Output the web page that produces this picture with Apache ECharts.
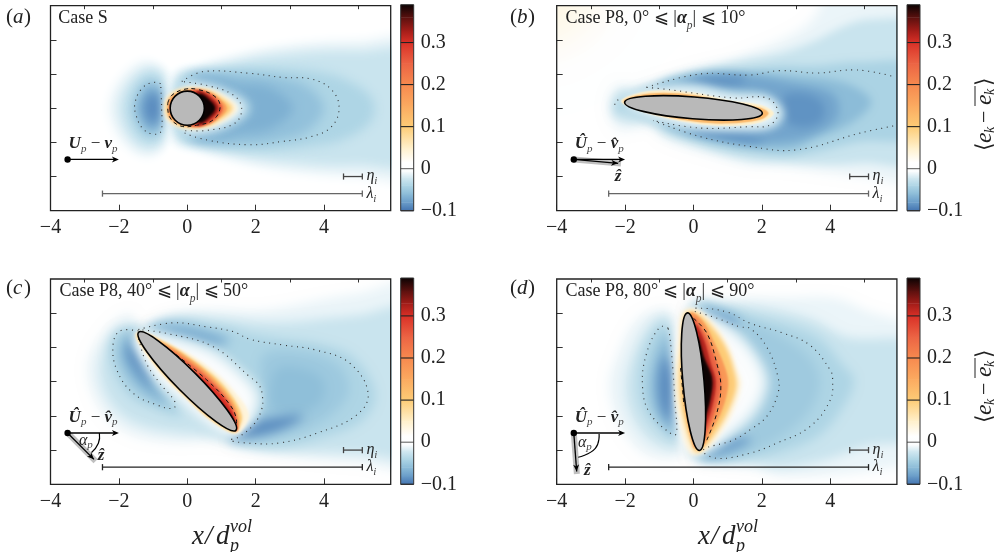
<!DOCTYPE html>
<html><head><meta charset="utf-8">
<style>html,body{margin:0;padding:0;background:#fff}#c{width:1004px;height:552px}</style>
<script src="https://cdn.jsdelivr.net/npm/echarts@6/dist/echarts.min.js"></script>
</head><body><div id="c"></div>
<script>
const xTicksMajor=[-4,-2,0,2,4], xTicksMinor=[-3,-1,1,3,5], yTicks=[-2,-1,0,1,2];
const cbTicks=[-0.1,0,0.1,0.2,0.3];
const cmapStops=[[-0.1,'#4373b0'],[-0.08,'#6a9dc9'],[-0.06,'#8cbcd8'],[-0.04,'#aed5e5'],[-0.02,'#d5eaf2'],[-0.006,'#fbfdfe'],[0.015,'#ffffff'],[0.05,'#fff0cb'],[0.1,'#fdcc76'],[0.15,'#fbaa60'],[0.2,'#f78a4f'],[0.25,'#ec6444'],[0.3,'#d93027'],[0.33,'#a01c18'],[0.36,'#5a100e'],[0.39,'#0c0303']];

const fieldA=[
[-0.012,[[-1.2,1.38],[-1.8,1.05],[-2.22,0.4],[-2.28,-0.2],[-1.92,-0.95],[-1.3,-1.4],[-0.8,-1.25],[-0.6,-0.6],[-0.58,0.2],[-0.62,0.95]]],
[-0.028,[[-1.15,1.18],[-1.65,0.82],[-1.97,0.2],[-1.92,-0.4],[-1.55,-1.0],[-1.1,-1.2],[-0.73,-1.0],[-0.63,-0.3],[-0.65,0.5],[-0.73,1.05]]],
[-0.045,[[-1.1,0.92],[-1.48,0.6],[-1.66,0],[-1.48,-0.6],[-1.1,-0.92],[-0.78,-0.75],[-0.66,0],[-0.78,0.75]]],
[-0.07,[[-1.05,0.7],[-1.35,0.35],[-1.45,0],[-1.35,-0.35],[-1.05,-0.7],[-0.8,-0.5],[-0.72,0],[-0.8,0.5]]],
[-0.09,[[-1.02,0.48],[-1.22,0.18],[-1.22,-0.18],[-1.02,-0.48],[-0.83,-0.25],[-0.83,0.25]]],
[-0.012,[[-0.45,0.88],[0.3,1.2],[1,1.42],[2,1.68],[3,1.85],[4,1.95],[5,1.98],[6.5,1.98],[6.5,-2.02],[5,-2.02],[4,-1.96],[3,-1.85],[2,-1.68],[1,-1.42],[0.3,-1.2],[-0.45,-0.88]]],
[-0.026,[[-0.3,0.88],[0.4,1.12],[1.2,1.3],[2,1.48],[3,1.6],[4,1.68],[5,1.68],[6.5,1.62],[6.5,-1.62],[5,-1.68],[4,-1.68],[3,-1.6],[2,-1.48],[1.2,-1.3],[0.4,-1.12],[-0.3,-0.88]]],
[-0.04,[[-0.2,0.84],[0.4,1.05],[1.3,1.15],[2.5,1.18],[3.6,1.1],[4.6,0.85],[5.4,0.3],[5.4,-0.35],[4.6,-0.9],[3.6,-1.12],[2.5,-1.22],[1.3,-1.18],[0.4,-1.02],[-0.2,-0.78]]],
[-0.056,[[0,0.84],[0.7,0.98],[1.6,1.0],[2.6,0.92],[3.5,0.65],[4.0,0],[3.5,-0.68],[2.6,-0.96],[1.6,-1.05],[0.7,-1.0],[0,-0.78]]],
[-0.068,[[0.2,0.87],[0.9,0.9],[1.5,0.72],[2.4,0.62],[3.1,0],[2.4,-0.62],[1.5,-0.76],[0.9,-0.92],[0.2,-0.84]]],
[-0.04,[[-0.15,0.72],[0.6,0.7],[1.2,0.5],[1.68,0.25],[1.85,0],[1.68,-0.25],[1.2,-0.55],[0.6,-0.72],[-0.15,-0.7]]],
[-0.012,[[-0.15,0.64],[0.6,0.64],[1.15,0.42],[1.55,0.2],[1.68,0],[1.55,-0.2],[1.15,-0.45],[0.6,-0.66],[-0.15,-0.62]]],
[0.04,[[-0.62,0.3],[-0.25,0.55],[0.55,0.57],[1.15,0.33],[1.47,0],[1.15,-0.33],[0.55,-0.57],[-0.25,-0.55],[-0.62,-0.3],[-0.68,0]]],
[0.1,[[-0.55,0.25],[-0.2,0.53],[0.55,0.53],[1.05,0.28],[1.32,0],[1.05,-0.28],[0.55,-0.53],[-0.2,-0.53],[-0.55,-0.25],[-0.62,0]]],
[0.17,[[-0.5,0.3],[0,0.53],[0.55,0.5],[0.98,0.25],[1.16,0],[0.98,-0.25],[0.55,-0.5],[0,-0.53],[-0.5,-0.3],[-0.56,0]]],
[0.26,[[0.1,0.52],[0.6,0.46],[0.9,0.24],[1.04,0],[0.9,-0.24],[0.6,-0.46],[0.1,-0.52],[-0.52,0]]],
[0.33,[[0.3,0.5],[0.65,0.35],[0.92,0],[0.65,-0.35],[0.3,-0.5],[0,0]]],
[0.39,[[0.35,0.42],[0.65,0.25],[0.82,0],[0.65,-0.25],[0.35,-0.42],[0,0]]]
];
const dottedA=[
[[-0.78,0.72],[-1.05,0.75],[-1.35,0.55],[-1.53,0.15],[-1.5,-0.2],[-1.3,-0.6],[-1.03,-0.75],[-0.78,-0.7],[-0.75,0],[-0.78,0.72]],
[[-0.16,0.78],[0.46,1.07],[1.83,1.02],[2.8,0.9],[3.6,0.86],[4.18,0.58],[4.44,0.05],[4.22,-0.54],[3.6,-0.84],[2.8,-0.97],[1.83,-1.07],[0.57,-0.93],[-0.12,-0.68],[0.57,-0.65],[1.39,-0.44],[1.59,0],[1.34,0.39],[0.6,0.66],[-0.16,0.78]]
];
const dashedA=[[[-0.57,0.15],[-0.45,0.38],[-0.1,0.55],[0.3,0.55],[0.81,0.34],[0.96,0.03],[0.76,-0.34],[0.27,-0.5],[-0.2,-0.52],[-0.52,-0.25],[-0.57,0.15]]];

const fieldB=[
[0.012,[[-4.6,3.6],[-0.4,3.6],[-1.2,2.4],[-2.6,1.3],[-4.6,0.7]]],
[0.022,[[-4.6,3.6],[-2.2,3.6],[-2.9,2.2],[-4.6,1.5]]],
[0.032,[[-4.6,3.6],[-3.2,3.6],[-3.5,2.6],[-4.6,2.2]]],
[-0.012,[[-1.8,0.6],[-0.8,0.9],[0.2,1.2],[1.15,1.42],[1.65,1.62],[2.6,2.02],[3.3,2.42],[3.7,2.95],[3.85,3.5],[6.5,3.5],[6.5,-2.05],[5,-2.0],[4.1,-1.9],[2.6,-1.7],[1.65,-1.65],[0.5,-1.35],[-0.78,-0.92],[-1.25,-0.55],[-1.8,-0.6],[-2.15,-0.65],[-2.45,-0.25],[-2.48,0.25],[-2.2,0.68]]],
[-0.026,[[-1.6,0.55],[-0.7,0.85],[0.3,1.15],[1.3,1.38],[2.5,1.6],[3.5,1.95],[4.4,2.4],[5.2,2.6],[6.5,2.4],[6.5,-1.55],[5,-1.6],[4.1,-1.65],[2.6,-1.58],[1.65,-1.52],[0.5,-1.22],[-0.8,-0.8],[-1.3,-0.45],[-1.9,-0.42],[-2.32,-0.25],[-2.38,0.2],[-2.15,0.52]]],
[-0.042,[[-1.37,0.62],[0.19,1.06],[1.65,1.15],[2.53,1.25],[3.6,1.25],[4.77,1.35],[6.5,1.2],[6.5,-0.8],[4.87,-0.98],[3.02,-1.38],[1.65,-1.3],[0.19,-0.98],[-1.18,-0.4],[-1.9,-0.14],[-2.28,0],[-2.05,0.28]]],
[-0.06,[[-1.0,0.62],[0.19,0.98],[1.65,1.02],[2.9,0.95],[4.4,0.75],[5.2,0.2],[4.6,-0.45],[3.5,-0.9],[2.9,-1.18],[1.65,-1.12],[0.19,-0.85],[-0.85,-0.48]]],
[-0.075,[[-0.4,0.72],[0.5,0.95],[1.6,0.95],[2.8,0.75],[4.1,0.4],[4.2,-0.3],[3.3,-0.85],[2.2,-1.02],[1.6,-1.02],[0.5,-0.82],[-0.3,-0.62],[0.4,-0.5],[2.2,-0.3],[2.2,0.4],[0.4,0.55]]],
[-0.085,[[2.65,0.35],[3.3,0.42],[3.8,0.12],[3.75,-0.35],[3.2,-0.55],[2.7,-0.35]]],
[-0.085,[[-0.1,0.8],[0.7,0.92],[1.5,0.88],[1.4,0.72],[0.5,0.68]]],
[-0.085,[[0,-0.68],[0.7,-0.85],[1.6,-0.98],[2.1,-0.92],[1.5,-0.76],[0.5,-0.62]]],
[-0.03,[[-1.3,0.48],[0,0.7],[1.2,0.42],[2.2,0.3],[2.65,-0.12],[2.35,-0.55],[1.3,-0.62],[0,-0.58],[-1.2,-0.28],[-1.9,0.1]]],
[-0.01,[[-1.7,0.42],[-0.4,0.55],[1.15,0.32],[2.15,0.24],[2.45,-0.12],[2.2,-0.46],[1.3,-0.55],[-0.2,-0.47],[-1.45,-0.12],[-2.02,0.18]]],
[0.05,[[-2.12,0.2],[-1.3,0.5],[0,0.46],[1.1,0.22],[1.95,0.1],[2.35,-0.15],[1.95,-0.42],[1,-0.52],[0,-0.44],[-1.3,-0.16]]],
[0.13,[[-2.05,0.2],[-1.3,0.43],[0,0.39],[1.1,0.15],[1.95,0.02],[2.2,-0.15],[1.95,-0.34],[1,-0.45],[0,-0.39],[-1.3,-0.12]]]
];
const dottedB=[
[[-2.2,0.25],[-2.3,0.15],[-2.25,0.02]],
[[-1.37,0.61],[0.19,1.0],[1.65,0.97],[2.53,1.1],[3.6,1.03],[4.77,1.12],[5.84,0.93]],
[[5.84,-0.52],[4.87,-0.73],[3.02,-1.22],[1.65,-1.12],[0.19,-0.83],[-1.18,-0.36]],
[[-1.37,0.61],[-0.78,0.55],[1.16,0.3],[2.14,0.3],[2.47,-0.1],[2.24,-0.49],[1.65,-0.54],[0.19,-0.58],[-1.18,-0.36]]
];
const dashedB=[];

const fieldC=[
[-0.012,[[-1.7,2.0],[-2.35,1.55],[-2.9,0.6],[-2.8,-0.3],[-2.25,-1.15],[-1.5,-1.6],[-0.3,-1.78],[0.6,-1.74],[1.3,-1.84],[2,-2.04],[3,-2.18],[4,-2.3],[5,-2.38],[6.5,-2.44],[6.5,2.8],[5,2.58],[4,2.42],[3,2.22],[2,2.08],[1,2.1],[0,2.05],[-0.7,1.9],[-1.2,1.6],[-1.45,1.65]]],
[-0.026,[[-1.7,1.65],[-2.25,1.25],[-2.55,0.5],[-2.45,-0.25],[-1.95,-0.95],[-1.3,-1.3],[-0.3,-1.5],[0.8,-1.6],[1.4,-1.78],[2.5,-1.98],[3.5,-2.05],[5,-2.1],[6.5,-2.1],[6.5,2.1],[5,1.95],[4,1.85],[3,1.75],[2,1.75],[1,1.85],[0,1.92],[-0.7,1.8],[-1.3,1.52]]],
[-0.042,[[-1.43,1.5],[-2.0,1.5],[-2.25,1.07],[-2.15,0.34],[-1.65,-0.45],[-0.89,-0.8],[-0.2,-1.0],[-0.3,-0.5],[-0.8,0],[-1.2,0.8]]],
[-0.04,[[-1.25,1.45],[-0.41,1.78],[0.57,1.68],[1.35,1.55],[1.83,1.4],[2.8,1.25],[3.78,1.12],[4.85,0.72],[5.5,-0.34],[5.1,-1.15],[3.78,-1.68],[2.71,-1.9],[1.83,-1.88],[1.25,-1.75],[1.5,-1.4],[2.2,-0.4],[1.2,0.6],[0,1.2]]],
[-0.05,[[2.2,0.75],[3.5,0.85],[4.5,0.4],[4.7,-0.4],[3.8,-1.25],[2.5,-1.6],[1.8,-1.55],[2.25,-0.6]]],
[-0.068,[[-1.75,1.35],[-1.95,0.8],[-1.6,0.05],[-0.95,-0.5],[-0.55,-0.65],[-1.1,0.25],[-1.42,0.85],[-1.5,1.3]]],
[-0.088,[[-1.62,1.15],[-1.72,0.8],[-1.4,0.25],[-1.0,-0.15],[-1.22,0.45],[-1.42,0.85]]],
[-0.07,[[-1.1,1.58],[-0.4,1.66],[0.5,1.5],[1.25,1.2],[0.8,1.05],[-0.5,1.38]]],
[-0.058,[[2.6,0.35],[3.5,0.35],[4.0,0],[3.9,-0.6],[3.2,-0.95],[2.5,-0.8]]],
[-0.088,[[1.2,-1.62],[1.9,-1.62],[2.8,-1.38],[3.4,-1.0],[2.6,-1.05],[1.95,-1.2],[1.5,-1.38]]],
[-0.025,[[-1.35,1.45],[-0.5,1.33],[0.76,0.95],[1.83,0.1],[2.12,-0.45],[1.95,-1.1],[1.7,-1.35],[1.3,-1.6],[0.5,-1.3],[-0.35,-0.6],[-0.9,0],[-1.4,0.8],[-1.55,1.3]]],
[-0.006,[[-1.35,1.42],[-0.55,1.25],[0.7,0.82],[1.7,0.02],[2.0,-0.45],[1.85,-1.05],[1.55,-1.4],[1.25,-1.55],[0.5,-1.12],[-0.3,-0.4],[-0.85,0.1],[-1.35,0.85],[-1.52,1.3]]],
[0.04,[[-1.4,1.48],[-0.9,1.27],[0,0.85],[0.8,0.3],[1.4,-0.3],[1.8,-0.95],[1.6,-1.42],[1.38,-1.52],[0.7,-1.12],[0,-0.5],[-0.7,0.15],[-1.3,0.95],[-1.52,1.35]]],
[0.1,[[-1.3,1.42],[-0.75,1.2],[0,0.76],[0.72,0.22],[1.28,-0.38],[1.6,-1.0],[1.48,-1.4],[1.3,-1.48],[0.6,-1.05],[-0.1,-0.4],[-0.7,0.22],[-1.25,0.95],[-1.48,1.35]]],
[0.17,[[-1.1,1.3],[-0.5,1.02],[0.15,0.6],[0.8,0.05],[1.3,-0.55],[1.5,-1.1],[1.42,-1.45],[0,0],[-1.4,1.4]]],
[0.25,[[-0.7,1.02],[0,0.6],[0.6,0.12],[1.1,-0.42],[1.42,-1.0],[1.42,-1.42],[0,0]]],
[0.3,[[0.2,0.25],[0.75,-0.15],[1.2,-0.65],[1.42,-1.15],[1.4,-1.42],[0,0]]],
[0.36,[[0.85,-0.5],[1.2,-0.85],[1.38,-1.2],[1.3,-1.3],[0.7,-0.7]]]
];
const dottedC=[
[[-1.43,1.48],[-1.97,1.48],[-2.17,1.07],[-2.06,0.34],[-1.58,-0.34],[-0.89,-0.68],[-0.41,-0.78],[-0.36,-0.59],[-0.8,-0.05],[-1.2,0.55],[-1.43,1.3]],
[[-1.43,1.52],[-0.41,1.72],[0.57,1.6],[1.35,1.46],[1.83,1.24],[2.8,1.07],[3.78,0.92],[4.75,0.54],[5.29,-0.34],[4.95,-0.98],[3.78,-1.51],[2.71,-1.79],[1.83,-1.8],[1.25,-1.71],[1.5,-1.62],[1.93,-1.27],[2.17,-0.83],[2.2,-0.44],[2.1,-0.1],[1.83,0.14],[0.76,1.02],[-0.6,1.41],[-1.43,1.52]]
];
const dashedC=[[[-0.5,0.92],[0.57,0.05],[1.25,-0.68],[1.44,-1.12],[1.38,-1.39]]];

const fieldD=[
[-0.012,[[-0.78,2.12],[-1.4,2.0],[-1.82,1.62],[-2.2,0.85],[-2.47,-0.05],[-2.3,-0.95],[-1.95,-1.6],[-1.5,-2.07],[-0.9,-2.25],[-0.36,-2.15],[-0.43,-1.6],[-0.53,-0.5],[-0.64,0.8],[-0.64,1.85]]],
[-0.026,[[-0.78,1.95],[-1.25,1.7],[-1.72,0.9],[-1.98,-0.1],[-1.82,-0.95],[-1.35,-1.65],[-0.8,-1.95],[-0.4,-1.9],[-0.48,-0.8],[-0.58,0.7],[-0.66,1.75]]],
[-0.042,[[-0.76,1.65],[-1.0,1.65],[-1.45,0.83],[-1.58,-0.15],[-1.35,-0.95],[-0.62,-1.68],[-0.43,-1.6],[-0.5,-0.63],[-0.58,0.34],[-0.66,1.35]]],
[-0.066,[[-0.78,1.35],[-1.08,0.7],[-1.22,-0.15],[-1.05,-0.95],[-0.58,-1.5],[-0.47,-1.35],[-0.54,-0.5],[-0.6,0.5]]],
[-0.09,[[-0.82,0.75],[-1.0,0.05],[-0.92,-0.75],[-0.66,-1.15],[-0.58,-0.45],[-0.63,0.25]]],
[-0.012,[[-0.1,2.3],[0.8,2.35],[1.65,2.45],[2.62,2.45],[4.09,2.45],[5,2.1],[6.5,1.4],[6.5,-2.3],[5.95,-2.48],[4.58,-2.68],[2.62,-2.76],[1.65,-2.5],[0.68,-2.42],[0.1,-2.28],[-0.2,-2.0],[0,0]]],
[-0.026,[[0,2.22],[0.9,2.25],[1.7,2.2],[2.6,2.05],[3.5,1.8],[4.5,1.3],[6.5,1.05],[6.5,-1.55],[5,-1.9],[4,-2.25],[2.6,-2.5],[1.65,-2.38],[0.68,-2.32],[0.1,-2.2],[0,0]]],
[-0.04,[[0.05,2.17],[0.97,2.12],[1.75,1.9],[2.8,1.65],[3.7,1.25],[4.4,0.45],[4.7,0.05],[4.4,-0.7],[3.7,-1.55],[2.6,-2.05],[1.65,-2.22],[0.68,-2.27],[0.1,-2.12],[0,0]]],
[-0.049,[[0.15,2.12],[0.7,2.1],[1.5,1.8],[2.6,1.3],[3.4,0.7],[3.7,0],[3.4,-0.85],[2.5,-1.65],[1.5,-2.1],[0.6,-2.25],[0.1,-2.05],[0,0]]],
[-0.08,[[0.25,2.12],[0.7,2.04],[1.3,1.78],[1.2,1.58],[0.6,1.85]]],
[-0.08,[[0.2,-2.17],[0.7,-2.16],[1.2,-1.98],[1.7,-1.72],[1.2,-1.62],[0.6,-1.95]]],
[-0.022,[[-0.15,2.1],[0.3,1.98],[1.2,1.55],[1.8,0.9],[2.2,0.15],[2.15,-0.4],[1.8,-1.05],[1.1,-1.62],[0.35,-2.05],[-0.15,-2.1],[-0.4,0]]],
[-0.004,[[-0.15,2.05],[0.3,1.9],[1.05,1.45],[1.65,0.85],[2.0,0.15],[1.95,-0.35],[1.6,-0.95],[1.0,-1.5],[0.32,-1.98],[-0.15,-2.05],[-0.45,-1.3],[-0.5,0.1],[-0.52,1.3]]],
[0.04,[[0,2.15],[0.5,1.8],[1.0,1.1],[1.3,0.3],[1.4,-0.1],[1.15,-0.9],[0.8,-1.5],[0.3,-2.05],[-0.1,-2.1],[-0.45,-1],[-0.55,0],[-0.45,1.2],[-0.35,2.0]]],
[0.1,[[0,2.05],[0.45,1.7],[0.95,1.0],[1.22,0.2],[1.25,-0.2],[1.0,-0.9],[0.65,-1.5],[0.25,-2.0],[0.05,-2.05],[-0.3,-1],[-0.42,0],[-0.35,1],[-0.25,1.95]]],
[0.18,[[-0.1,2],[0.25,1.8],[0.58,1.2],[0.93,0.4],[1.02,-0.1],[0.85,-0.8],[0.55,-1.4],[0.25,-1.9],[0,-1.9],[-0.3,0]]],
[0.25,[[0,1.85],[0.28,1.5],[0.55,0.9],[0.78,0.2],[0.8,-0.2],[0.62,-0.9],[0.38,-1.5],[0.2,-1.8],[0,-1]]],
[0.32,[[0.05,1.65],[0.3,1.25],[0.52,0.5],[0.66,0],[0.56,-0.7],[0.35,-1.35],[0.2,-1.72],[0,-0.5]]],
[0.39,[[0.12,1.3],[0.32,0.7],[0.55,0.1],[0.5,-0.5],[0.32,-1.15],[0.18,-1.55],[0,0]]]
];
const dottedD=[
[[-0.74,1.56],[-0.98,1.6],[-1.37,0.83],[-1.49,-0.15],[-1.27,-0.93],[-0.6,-1.56],[-0.49,-1.5],[-0.54,-0.63],[-0.6,0.34],[-0.69,1.31],[-0.74,1.56]],
[[0.04,2.05],[0.7,1.85],[1.36,1.6],[1.65,1.56],[2.14,1.02],[2.47,0.14],[2.47,-0.34],[2.14,-1.02],[1.65,-1.41],[1.16,-1.71],[0.28,-2.0],[0.68,-2.24],[1.65,-2.09],[2.43,-1.8],[3.4,-1.32],[4,-0.54],[4.07,0.05],[4,0.34],[3.4,1.07],[2.62,1.42],[1.65,1.71],[0.97,2.04],[0.05,2.15],[0.04,2.05]]
];
const dashedD=[
[[0,1.85],[0.39,1.42],[0.68,0.54],[0.8,-0.15],[0.68,-0.93],[0.39,-1.71]],
[[-0.38,0.4],[-0.33,-0.1],[-0.28,-0.7]]
];

const particles=[[0,0,0.5,0.5,0],[0,0.01,2.02,0.32,-4.6],[0,0.01,2.02,0.33,-45.2],[0,0,2.02,0.31,-85]];
const velArrow=[-3.5,-1.5,-2.0,-1.5];
const zArrows=[null,[-3.5,-1.5,-2.12,-1.62],[-3.5,-1.5,-2.68,-2.32],[-3.5,-1.5,-3.41,-2.7]];
const arcs=[null,null,[[-2.57,-1.5],[-2.6,-1.8],[-2.8,-2.07]],[[-2.76,-1.53],[-2.87,-1.95],[-3.37,-2.21]]];
const etaBar=[4.57,5.12,-2.0], lambdaBar=[-2.48,5.12,-2.5];
const fields=[fieldA,fieldB,fieldC,fieldD], dotted=[dottedA,dottedB,dottedC,dottedD], dashed=[dashedA,dashedB,dashedC,dashedD];

const panels=[
 {l:50.5,t:5.7,w:340.2,h:205,cl:400.7,ct:4.7,ch:206},
 {l:556.7,t:5.7,w:340.2,h:205,cl:907,ct:4.7,ch:206},
 {l:50.5,t:279,w:340.2,h:205.3,cl:400.7,ct:278,ch:206.3},
 {l:556.7,t:279,w:340.2,h:205.3,cl:907,ct:278,ch:206.3}
];
const FONT='"Liberation Serif",serif';
const OFF=3000;
function hex(c){return [1,3,5].map(i=>parseInt(c.substr(i,2),16));}
function colorOf(v){
  const s=cmapStops; if(v<=s[0][0])return s[0][1];
  for(let i=1;i<s.length;i++){ if(v<=s[i][0]){const t=(v-s[i-1][0])/(s[i][0]-s[i-1][0]);const a=hex(s[i-1][1]),b=hex(s[i][1]);
    return 'rgb('+a.map((x,k)=>Math.round(x+(b[k]-x)*t)).join(',')+')';}}
  return s[s.length-1][1];
}
const blurFor=[ v=>v<0?11:(v<0.15?4:2.5), v=>v<0?(v<-0.02?8:12):(v<0.04?26:1.5), v=>v<0?11:(v<0.15?3:2.5), v=>v<0?11:(v<0.15?4:2.5) ];
const grids=[],xAxes=[],yAxes=[],series=[];
const minus=s=>String(s).replace('-','\u2212');
function fieldRender(list,blur){return function(params,api){
  const c=list[params.dataIndex], col=colorOf(c[0]);
  return {type:'polygon',x:-OFF,shape:{points:c[1].map(p=>api.coord(p)),smooth:0.35},
    style:{fill:col,shadowColor:col,shadowBlur:blur(c[0]),shadowOffsetX:OFF}};
};}
function polyline(api,pts,style,smooth){return {type:'polyline',shape:{points:pts.map(p=>api.coord(p)),smooth:smooth||0},style:Object.assign({fill:'none'},style)};}
function arrowHead(api,a,color){
  const p=api.coord([a[2],a[3]]),q=api.coord([a[0],a[1]]);const ang=Math.atan2(p[1]-q[1],p[0]-q[0]);const L=7,W=3;
  const back=[p[0]-L*Math.cos(ang),p[1]-L*Math.sin(ang)];
  const notch=[p[0]-5*Math.cos(ang),p[1]-5*Math.sin(ang)];
  return {type:'polygon',shape:{points:[p,[back[0]-W*Math.sin(ang),back[1]+W*Math.cos(ang)],notch,[back[0]+W*Math.sin(ang),back[1]-W*Math.cos(ang)]]},style:{fill:color}};
}
function line(api,x0,y0,x1,y1,stroke,w){return {type:'line',shape:{x1:api.coord([x0,y0])[0],y1:api.coord([x0,y0])[1],x2:api.coord([x1,y1])[0],y2:api.coord([x1,y1])[1]},style:{stroke:stroke,lineWidth:w}};}
const richBase={b:{fontFamily:FONT,fontStyle:'italic',fontWeight:'bold',fontSize:17,lineHeight:17,verticalAlign:'middle',fill:'#222'},
  s:{fontFamily:FONT,fontStyle:'italic',fontSize:11,lineHeight:21,verticalAlign:'bottom',fill:'#444'},
  n:{fontFamily:FONT,fontSize:17,lineHeight:17,verticalAlign:'middle',fill:'#222'},
  i:{fontFamily:FONT,fontStyle:'italic',fontSize:16,lineHeight:16,verticalAlign:'middle',fill:'#222'}};
const captions=['{n|Case S}','{n|Case P8, 0° ⩽ |}{b|α}{s|p}{n|| ⩽ 10°}','{n|Case P8, 40° ⩽ |}{b|α}{s|p}{n|| ⩽ 50°}','{n|Case P8, 80° ⩽ |}{b|α}{s|p}{n|| ⩽ 90°}'];
const velLabels=['{b|U}{s|p}{n| − }{b|v}{s|p}','{b|Û}{s|p}{n| − }{b|v̂}{s|p}','{b|Û}{s|p}{n| − }{b|v̂}{s|p}','{b|Û}{s|p}{n| − }{b|v̂}{s|p}'];
const capSize=18;
function txt(api,x,y,text,o){const p=api.coord([x,y]);return {type:'text',x:p[0],y:p[1],style:Object.assign({text:text,rich:richBase,align:'left',verticalAlign:'middle',fontFamily:FONT},o||{})};}

function annotRender(i){return function(params,api){
  const ch=[], P=particles[i];
  dotted[i].forEach(pts=>ch.push(polyline(api,pts,{stroke:'#333',lineWidth:1.1,lineDash:[1,4.6]},0.4)));
  dashed[i].forEach(pts=>ch.push(polyline(api,pts,{stroke:'#111',lineWidth:1,lineDash:[4,3.5]},0.4)));
  const c=api.coord([P[0],P[1]]), sz=api.size([P[2],P[3]]);
  ch.push({type:'ellipse',x:c[0],y:c[1],rotation:P[4]*Math.PI/180,shape:{cx:0,cy:0,rx:sz[0],ry:sz[1]},style:{fill:'#b9b9b9',stroke:'#000',lineWidth:1.6}});
  [[etaBar,'#444'],[lambdaBar,i<2?'#666':'#222']].forEach(([b,col])=>{
    ch.push(line(api,b[0],b[2],b[1],b[2],col,1.3));
    [b[0],b[1]].forEach(x=>ch.push(line(api,x,b[2]-0.09,x,b[2]+0.09,col,1.3)));
  });
  ch.push(txt(api,5.24,-1.99,'{i|η}{s|i}'),txt(api,5.24,-2.5,'{i|λ}{s|i}'));
  const z=zArrows[i];
  if(z){ ch.push(line(api,z[0],z[1],z[2],z[3],'rgba(150,150,150,0.6)',6)); }
  ch.push(line(api,velArrow[0],velArrow[1],velArrow[2]-0.1,velArrow[3],'#000',1.3),arrowHead(api,velArrow,'#000'));
  if(z){ const zz=[z[0],z[1],z[0]+(z[2]-z[0])*0.94,z[1]+(z[3]-z[1])*0.94];
    ch.push(line(api,zz[0],zz[1],zz[2],zz[3],'#000',1.3),arrowHead(api,zz,'#000')); }
  if(arcs[i]) ch.push(polyline(api,arcs[i],{stroke:'#000',lineWidth:1.2},0.5));
  const d=api.coord([velArrow[0],velArrow[1]]);
  ch.push({type:'circle',shape:{cx:d[0],cy:d[1],r:3.2},style:{fill:'#000'}});
  ch.push(txt(api,-3.47,-1.04,velLabels[i]));
  if(i===1) ch.push(txt(api,-2.3,-2.0,'{b|ẑ}'));
  if(i===2){ ch.push(txt(api,-3.17,-1.72,'{i|α}{s|p}'),txt(api,-2.62,-2.15,'{b|ẑ}')); }
  if(i===3){ ch.push(txt(api,-3.38,-1.78,'{i|α}{s|p}'),txt(api,-3.2,-2.6,'{b|ẑ}')); }
  const rr=JSON.parse(JSON.stringify(richBase));
  ['b','n','i'].forEach(k=>{rr[k].fontSize=capSize;rr[k].lineHeight=capSize;});rr.s.fontSize=11.5;rr.s.lineHeight=27;
  ch.push(txt(api,i===0?-3.77:-3.74,2.64,captions[i],{rich:rr}));
  const a=api.coord([-4,3]),b=api.coord([5.95,-3]);
  ch.push({type:'rect',shape:{x:a[0],y:a[1],width:b[0]-a[0],height:b[1]-a[1]},style:{fill:'none',stroke:'#222',lineWidth:1.3}});
  return {type:'group',children:ch};
};}
function cbRender(params,api){
  const i=params.dataIndex, s=cmapStops;
  const top=i===s.length-2?0.39:s[i+1][0];
  const p0=api.coord([0,top]),p1=api.coord([1,s[i][0]]);
  return {type:'rect',shape:{x:p0[0],y:p0[1],width:p1[0]-p0[0],height:p1[1]-p0[1]+0.4},
    style:{fill:{type:'linear',x:0,y:0,x2:0,y2:1,colorStops:[{offset:0,color:s[i+1][1]},{offset:1,color:s[i][1]}]}}};
}
function cbFrame(params,api){
  const ch=[];
  cbTicks.forEach(t=>{const a=api.coord([0,t]),b=api.coord([1,t]);ch.push({type:'line',shape:{x1:a[0],y1:a[1],x2:b[0],y2:b[1]},style:{stroke:t===0?'#666':'#222',lineWidth:1.1}});});
  const a=api.coord([0,0.39]),b=api.coord([1,-0.1]);
  ch.push({type:'rect',shape:{x:a[0],y:a[1],width:b[0]-a[0],height:b[1]-a[1]},style:{fill:'none',stroke:'#333',lineWidth:1}});
  return {type:'group',children:ch};
}
panels.forEach((p,i)=>{
  const g=grids.length;
  grids.push({left:p.l,top:p.t,width:p.w,height:p.h,show:false});
  grids.push({left:p.cl,top:p.ct,width:13,height:p.ch,show:false});
  const xm=xAxes.length, ym=yAxes.length;
  xAxes.push({type:'value',gridIndex:g,min:-4,max:5.95,z:5,splitLine:{show:false},axisLine:{show:false,onZero:false},
    axisTick:{show:true,inside:true,length:6,customValues:xTicksMajor,lineStyle:{color:'#333',width:1}},
    axisLabel:{show:true,margin:7,fontFamily:FONT,fontSize:20,color:'#222',customValues:xTicksMajor,formatter:minus}});
  xAxes.push({type:'value',gridIndex:g,min:-4,max:5.95,z:5,splitLine:{show:false},axisLine:{show:false,onZero:false},
    axisTick:{show:true,inside:true,length:3.5,customValues:xTicksMinor,lineStyle:{color:'#333',width:1}},axisLabel:{show:false}});
  yAxes.push({type:'value',gridIndex:g,min:-3,max:3,z:5,splitLine:{show:false},axisLine:{show:false,onZero:false},
    axisTick:{show:true,inside:true,length:6,customValues:yTicks,lineStyle:{color:'#333',width:1}},axisLabel:{show:false}});
  xAxes.push({type:'value',gridIndex:g+1,min:0,max:1,show:false});
  yAxes.push({type:'value',gridIndex:g+1,min:-0.1,max:0.39,position:'right',splitLine:{show:false},axisLine:{show:false,onZero:false},
    axisTick:{show:false},
    axisLabel:{show:true,margin:7,fontFamily:FONT,fontSize:20,color:'#222',customValues:cbTicks,formatter:v=>v===0?'0':minus(v)}});
  series.push({type:'custom',xAxisIndex:xm,yAxisIndex:ym,coordinateSystem:'cartesian2d',clip:true,silent:true,z:2,
    data:fields[i].map(c=>[c[1][0][0],c[1][0][1]]),renderItem:fieldRender(fields[i],blurFor[i])});
  series.push({type:'custom',xAxisIndex:xm,yAxisIndex:ym,coordinateSystem:'cartesian2d',silent:true,z:6,
    data:[[0,0]],renderItem:annotRender(i)});
  series.push({type:'custom',xAxisIndex:xm+2,yAxisIndex:ym+1,coordinateSystem:'cartesian2d',silent:true,z:2,
    data:cmapStops.slice(0,-1).map(s=>[0,s[0]]),renderItem:cbRender});
  series.push({type:'custom',xAxisIndex:xm+2,yAxisIndex:ym+1,coordinateSystem:'cartesian2d',silent:true,z:6,
    data:[[0,0]],renderItem:cbFrame});
});
const graphic=[];
function gText(x,y,t,size,style,extra){return Object.assign({type:'text',x:x,y:y,style:{text:t,fontFamily:FONT,fontSize:size,fontStyle:style||'normal',fill:'#222',verticalAlign:'middle',align:'left'}},extra||{});}
[['a',6,17],['b',510,17],['c',6,288],['d',510,288]].forEach(([n,x,y])=>{
  graphic.push(gText(x,y,'(',21),gText(x+7,y,n,21,'italic'),gText(x+18,y,')',21));
});
[192,698].forEach(x=>{
  graphic.push(gText(x,537,'x',27,'italic'),gText(x+13,537,'/',27,'italic'),gText(x+24,537,'d',27,'italic'),
    gText(x+38,527,'vol',18,'italic'),gText(x+38,546,'p',18,'italic'));
});
[[985,110],[985,382]].forEach(([x,y])=>{
  graphic.push({type:'group',x:x,y:y,rotation:Math.PI/2,children:[
    gText(-41,0,'⟨',22),gText(-33,0,'e',24,'italic'),gText(-23,5,'k',14,'italic'),gText(-13,0,'−',22),
    gText(5,0,'e',24,'italic'),gText(15,5,'k',14,'italic'),gText(24,0,'⟩',22),
    {type:'line',shape:{x1:4,y1:-10,x2:24,y2:-10},style:{stroke:'#222',lineWidth:1}}
  ]});
});
const chart=echarts.init(document.getElementById('c'),null,{renderer:'canvas'});
chart.setOption({animation:false,backgroundColor:'#fff',grid:grids,xAxis:xAxes,yAxis:yAxes,series:series,graphic:graphic});
</script></body></html>
